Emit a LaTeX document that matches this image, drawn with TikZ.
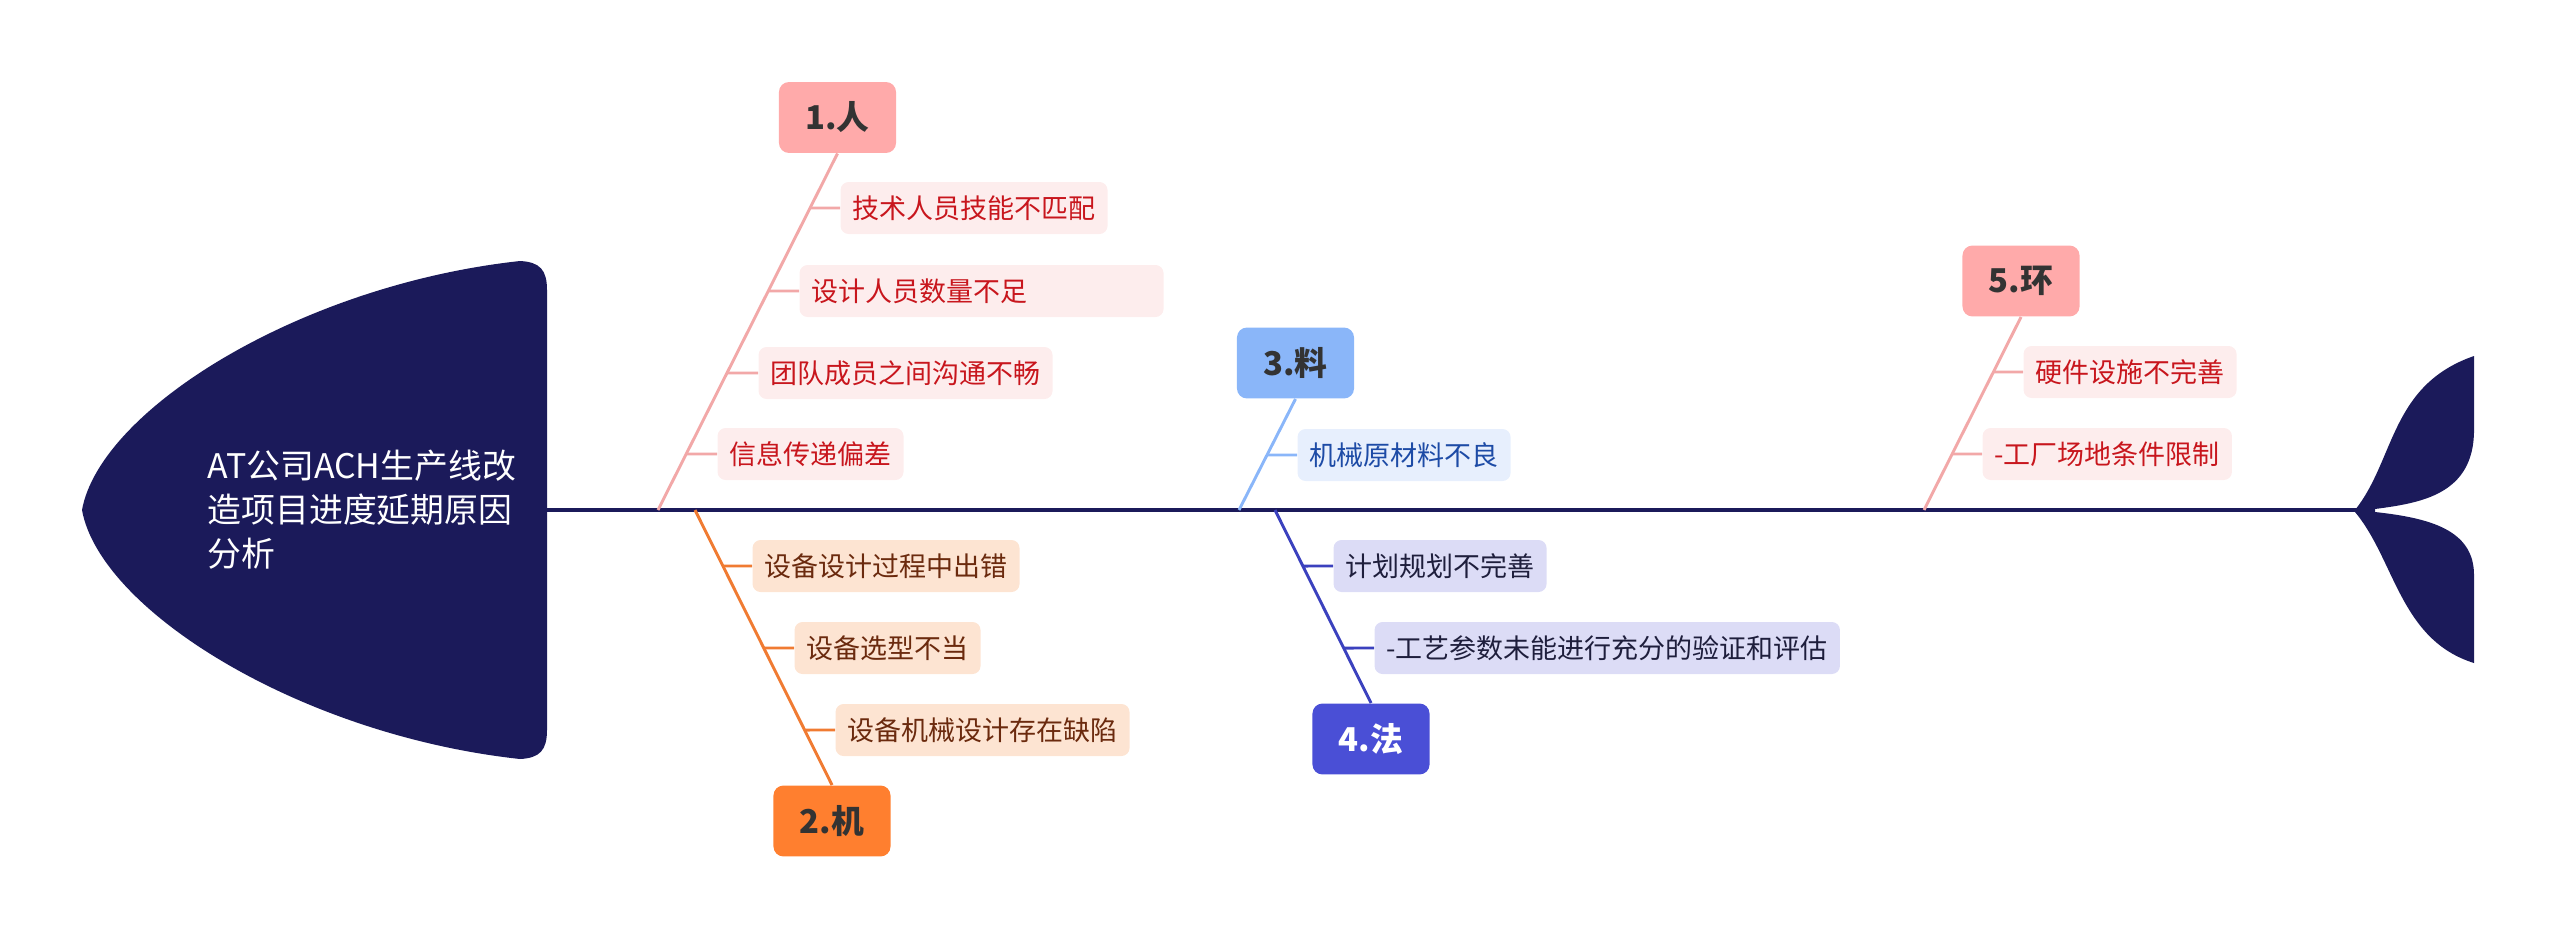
\documentclass[tikz,border=0pt]{standalone}
\usepackage{fontspec}
\setmainfont{Noto Sans CJK SC}
\usetikzlibrary{calc}
\definecolor{navy}{HTML}{1B1A5A}
\definecolor{pcat}{HTML}{FFAAAA}
\definecolor{pline}{HTML}{F2A8A8}
\definecolor{pfill}{HTML}{FDEDED}
\definecolor{ptext}{HTML}{C8161D}
\definecolor{ocat}{HTML}{FF7F2F}
\definecolor{oline}{HTML}{F07B32}
\definecolor{ofill}{HTML}{FDE4D2}
\definecolor{otext}{HTML}{6B2A0E}
\definecolor{bcat}{HTML}{8AB6F9}
\definecolor{bline}{HTML}{8AB6F9}
\definecolor{bfill}{HTML}{E7EFFD}
\definecolor{btext}{HTML}{1D4BA6}
\definecolor{icat}{HTML}{4A4FD6}
\definecolor{iline}{HTML}{3B41BE}
\definecolor{ifill}{HTML}{DCDCF6}
\definecolor{itext}{HTML}{1E1E3C}
\tikzset{
  catbox/.style={rounded corners=3.75pt, minimum width=43.9pt, minimum height=26.6pt, inner sep=0pt,
    font=\fontsize{12.3pt}{14pt}\selectfont\bfseries},
  itembox/.style={rounded corners=3pt, minimum height=19.5pt, inner xsep=4.5pt, inner ysep=0pt, anchor=west,
    font=\fontsize{10.125pt}{12pt}\selectfont},
  bone/.style={line width=1.1pt},
}
\begin{document}
\begin{tikzpicture}[x=0.375pt, y=-0.375pt]
\useasboundingbox (0,0) rectangle (2560,939);
% head
\fill[navy] (82,510) .. controls (100,410) and (300,285) .. (520,261)
  .. controls (540,262) and (547,270) .. (547,290) -- (547,730)
  .. controls (547,750) and (540,758) .. (520,759)
  .. controls (300,735) and (100,610) .. (82,510) -- cycle;
\node[anchor=west, text=white, align=left, inner sep=0pt,
  font=\fontsize{12.7pt}{16.5pt}\selectfont] (title) at (207,510) {AT公司ACH生产线改\\造项目进度延期原因\\分析};
% tail
\fill[navy] (2355,510) .. controls (2395,460) and (2390,385) .. (2474,356) -- (2474,430)
  .. controls (2474,495) and (2420,503) .. (2375,509) -- (2375,512)
  .. controls (2430,518) and (2474,530) .. (2474,575) -- (2474,663)
  .. controls (2400,640) and (2395,560) .. (2355,512) -- cycle;
\coordinate (headR) at (547,510);
\coordinate (tailL) at (2358,510);
\draw[navy, line width=1.3pt] (headR) -- (tailL);
% spine points
\coordinate (s1) at (658,510);
\coordinate (s2) at (695,510);
\coordinate (s3) at (1239,510);
\coordinate (s4) at (1275,510);
\coordinate (s5) at (1924,510);
% categories
\node[catbox, fill=pcat, text=black!80] (c1) at (837.5,117.5) {1.人};
\node[catbox, fill=ocat, text=black!80] (c2) at (832,821) {2.机};
\node[catbox, fill=bcat, text=black!80] (c3) at (1295.5,363) {3.料};
\node[catbox, fill=icat, text=white] (c4) at (1371,739) {4.法};
\node[catbox, fill=pcat, text=black!80] (c5) at (2021,281) {5.环};
% items
\node[itembox, fill=pfill, text=ptext] (i11) at (840,208) {技术人员技能不匹配};
\node[itembox, fill=pfill, text=ptext, text width=127.5pt, align=left] (i12) at (799,291) {设计人员数量不足};
\node[itembox, fill=pfill, text=ptext] (i13) at (758,373) {团队成员之间沟通不畅};
\node[itembox, fill=pfill, text=ptext] (i14) at (717,454) {信息传递偏差};
\node[itembox, fill=ofill, text=otext] (i21) at (752,566) {设备设计过程中出错};
\node[itembox, fill=ofill, text=otext] (i22) at (794,648) {设备选型不当};
\node[itembox, fill=ofill, text=otext] (i23) at (835,730) {设备机械设计存在缺陷};
\node[itembox, fill=bfill, text=btext] (i31) at (1297,455) {机械原材料不良};
\node[itembox, fill=ifill, text=itext] (i41) at (1333,566) {计划规划不完善};
\node[itembox, fill=ifill, text=itext] (i42) at (1374,648) {-工艺参数未能进行充分的验证和评估};
\node[itembox, fill=pfill, text=ptext] (i51) at (2023,372) {硬件设施不完善};
\node[itembox, fill=pfill, text=ptext] (i52) at (1982,454) {-工厂场地条件限制};
% bones
\draw[bone, pline] (c1.south) -- (s1);
\draw[bone, oline] (c2.north) -- (s2);
\draw[bone, bline] (c3.south) -- (s3);
\draw[bone, iline] (c4.north) -- (s4);
\draw[bone, pline] (c5.south) -- (s5);
% sub connectors
\foreach \it/\c/\s/\col in {i11/c1.south/s1/pline, i12/c1.south/s1/pline, i13/c1.south/s1/pline, i14/c1.south/s1/pline,
  i21/c2.north/s2/oline, i22/c2.north/s2/oline, i23/c2.north/s2/oline,
  i31/c3.south/s3/bline, i41/c4.north/s4/iline, i42/c4.north/s4/iline,
  i51/c5.south/s5/pline, i52/c5.south/s5/pline}{
  \draw[bone, \col] (\it.west) -- (intersection cs: first line={(\c)--(\s)}, second line={(\it.west)--([xshift=-10pt]\it.west)});
}
\end{tikzpicture}
\end{document}
